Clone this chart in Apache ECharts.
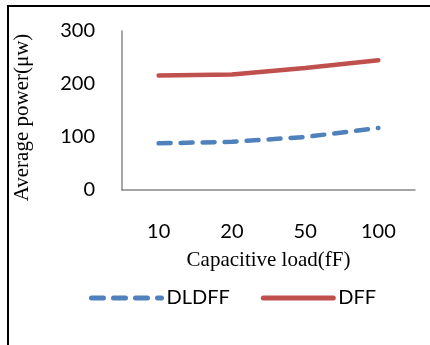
<!DOCTYPE html>
<html>
<head>
<meta charset="utf-8">
<script src="https://cdn.jsdelivr.net/npm/echarts@6/dist/echarts.min.js"></script>
<style>
html,body{margin:0;padding:0;background:#fff;}
#c{width:430px;height:345px;}
</style>
</head>
<body>
<div id="c"></div>
<script>
const categories = ['10', '20', '50', '100'];
const dldff = [88, 91, 100, 117];
const dff = [216, 218, 230, 245];
const yTicks = [0, 100, 200, 300];

const chart = echarts.init(document.getElementById('c'), null, {renderer: 'canvas'});
const sans = 'Lato, "Open Sans", sans-serif';
const serif = '"Liberation Serif", "DejaVu Serif", serif';
chart.setOption({
  animation: false,
  backgroundColor: '#fff',
  graphic: [
    {type: 'line', shape: {x1: 8, y1: 5, x2: 8, y2: 345}, style: {stroke: '#000', lineWidth: 2}},
    {type: 'line', shape: {x1: 7, y1: 6, x2: 430, y2: 6}, style: {stroke: '#000', lineWidth: 2}}
  ],
  grid: {left: 122, right: 15, top: 31, bottom: 155, containLabel: false},
  legend: {
    left: 84, top: 283,
    itemWidth: 70, itemHeight: 14, itemGap: 31,
    textStyle: {fontFamily: sans, fontSize: 20, color: '#000'},
    data: [
      {name: 'DLDFF', itemStyle: {opacity: 0}, lineStyle: {width: 5, type: [12, 10], cap: 'round', color: '#4F81BD'}},
      {name: 'DFF', itemStyle: {opacity: 0}, lineStyle: {width: 5, cap: 'round', color: '#C0504D'}}
    ]
  },
  xAxis: {
    type: 'category',
    data: categories,
    boundaryGap: true,
    axisLine: {lineStyle: {color: '#888', width: 1.5}},
    axisTick: {show: false},
    axisLabel: {fontFamily: sans, fontSize: 20, color: '#000', margin: 32},
    name: 'Capacitive load(fF)',
    nameLocation: 'middle',
    nameGap: 60,
    nameTextStyle: {fontFamily: serif, fontSize: 21, color: '#000'}
  },
  yAxis: {
    type: 'value',
    min: yTicks[0], max: yTicks[yTicks.length - 1], interval: 100,
    axisLine: {show: true, lineStyle: {color: '#888', width: 1.5}},
    axisTick: {show: false},
    splitLine: {show: false},
    axisLabel: {fontFamily: sans, fontSize: 20, color: '#000', margin: 27},
    name: 'Average power(μw)',
    nameLocation: 'middle',
    nameGap: 89,
    nameTextStyle: {fontFamily: serif, fontSize: 21, color: '#000', padding: [0, 14, 0, 0]}
  },
  series: [
    {
      name: 'DLDFF', type: 'line', data: dldff, symbol: 'none',
      lineStyle: {color: '#4F81BD', width: 4.5, type: [12, 10], cap: 'round'},
      itemStyle: {color: '#4F81BD'}
    },
    {
      name: 'DFF', type: 'line', data: dff, symbol: 'none',
      lineStyle: {color: '#C0504D', width: 4.5, cap: 'round'},
      itemStyle: {color: '#C0504D'}
    }
  ]
});
</script>
</body>
</html>
